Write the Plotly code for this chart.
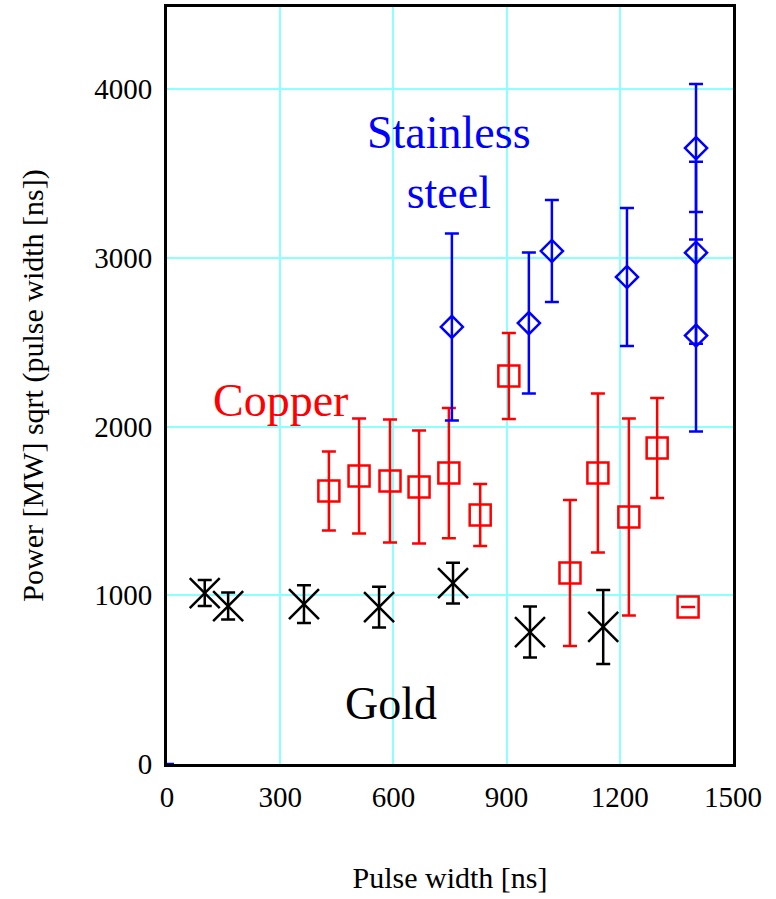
import plotly.graph_objects as go

# Gold
gold_x = [100, 162, 363, 562, 758, 962, 1156]
gold_y = [1013, 936, 948, 930, 1072, 782, 812]
gold_err = [77, 80, 112, 121, 121, 151, 219]

# Copper
cu_x = [429, 509, 591, 668, 747, 830, 906, 1068, 1142, 1224, 1299, 1381]
cu_y = [1618, 1707, 1677, 1641, 1724, 1476, 2299, 1132, 1724, 1464, 1873, 930]
cu_err = [234, 341, 364, 335, 386, 184, 255, 432, 471, 584, 296, 0]

# Stainless steel
ss_x = [755, 959, 1020, 1219, 1402, 1402, 1402]
ss_y = [2590, 2613, 3040, 2886, 3650, 3030, 2539]
ss_err = [554, 418, 302, 409, 379, 539, 569]

ss0_x = [0]
ss0_y = [0]
ss0_err = [0]

FONT = "Liberation Serif"

fig = go.Figure()

def add(x, y, e, color, symbol, size, show_marker=True):
    fig.add_trace(go.Scatter(
        x=x, y=y, mode="markers",
        marker=dict(symbol=symbol, size=size, color=color,
                    line=dict(color=color, width=2.5),
                    opacity=1 if show_marker else 0),
        error_y=dict(type="data", array=e, visible=True, color=color,
                     thickness=2.5, width=7),
        showlegend=False, cliponaxis=True,
    ))

add(gold_x, gold_y, gold_err, "black", "x-thin", 30)
add(cu_x, cu_y, cu_err, "red", "square-open", 21)
add(ss_x, ss_y, ss_err, "blue", "diamond-open", 17)
add(ss0_x, ss0_y, ss0_err, "blue", "circle", 1, show_marker=False)

fig.add_annotation(x=747, y=3565, xref="x", yref="y", text="Stainless<br>steel",
                   showarrow=False, font=dict(family=FONT, size=46, color="blue"))
fig.add_annotation(x=302, y=2157, xref="x", yref="y", text="Copper",
                   showarrow=False, font=dict(family=FONT, size=46, color="red"))
fig.add_annotation(x=594, y=361, xref="x", yref="y", text="Gold",
                   showarrow=False, font=dict(family=FONT, size=46, color="black"))

axis_common = dict(
    showline=True, linecolor="black", linewidth=3, mirror=True,
    showgrid=True, gridcolor="#8cffff", gridwidth=2,
    zeroline=False, ticks="",
    tickfont=dict(family=FONT, size=29, color="black"),
)

fig.update_xaxes(range=[0, 1500], tickvals=[0, 300, 600, 900, 1200, 1500],
                 title=dict(text="Pulse width [ns]", font=dict(family=FONT, size=30, color="black"),
                            standoff=56),
                 ticklabelstandoff=5,
                 **axis_common)
fig.update_yaxes(range=[0, 4486], tickvals=[0, 1000, 2000, 3000, 4000],
                 title=dict(text="Power [MW] sqrt (pulse width [ns])",
                            font=dict(family=FONT, size=30, color="black"), standoff=42),
                 ticklabelstandoff=6,
                 **axis_common)

fig.update_layout(
    width=776, height=899,
    margin=dict(l=167, r=43, t=7, b=135, autoexpand=False),
    plot_bgcolor="white", paper_bgcolor="white",
)

fig.write_html("out.html")
